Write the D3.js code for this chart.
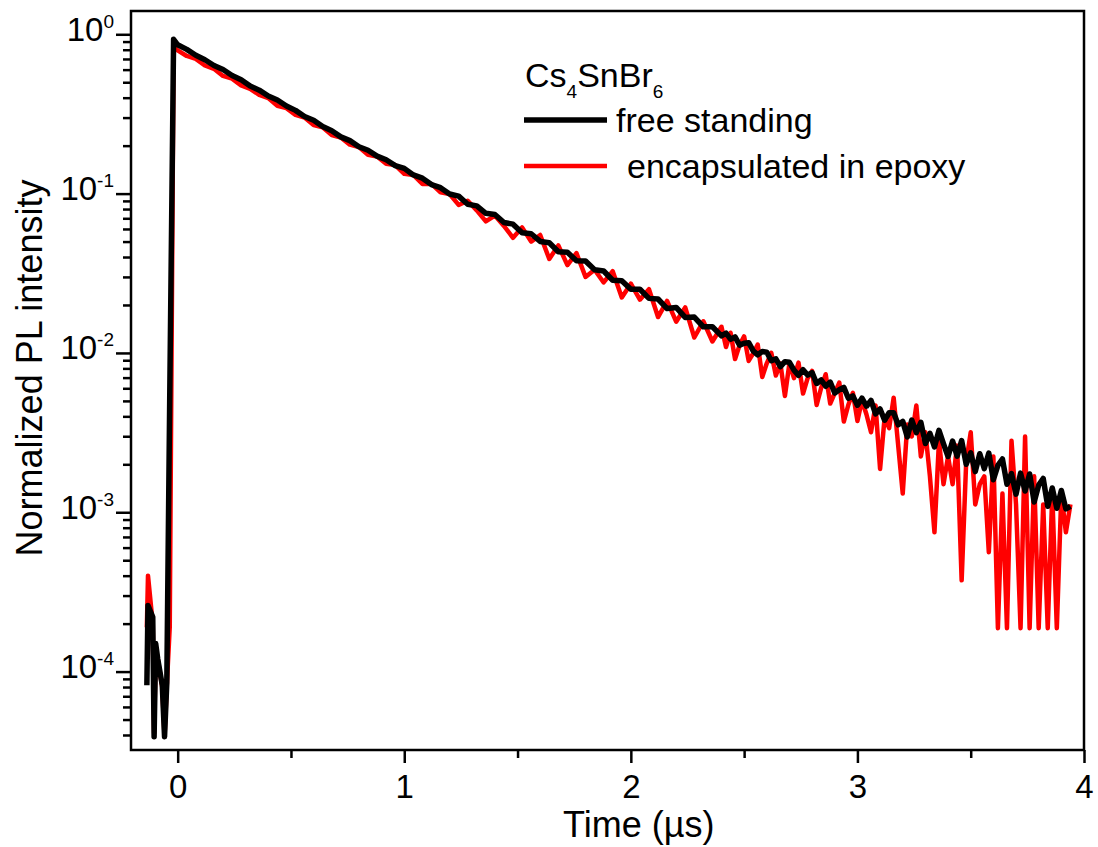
<!DOCTYPE html>
<html>
<head>
<meta charset="utf-8">
<style>
    body { margin: 0; background: #fff; }
    svg { display: block; font-family: 'Liberation Sans', Arial, sans-serif; }
    .axis .domain { display: none; }
    .axis line { stroke: #000; stroke-width: 2.5px; }
    .tick-label { font-size: 33px; fill: #000; }
    .axis-title { font-size: 36px; fill: #000; }
    .legend-text { font-size: 34px; fill: #000; }
</style>
</head>
<body>
<svg width="1098" height="847"></svg>

<script src="https://d3js.org/d3.v7.min.js"></script>
<script>
    // time axis in µs (shared by both traces)
    const time = [
        -0.136, -0.131, -0.110, -0.104, -0.097, -0.088, -0.068, -0.058, -0.048, -0.035, -0.018,
        0, 0.04, 0.08, 0.12, 0.16, 0.2, 0.24, 0.28, 0.32, 0.36, 0.4, 0.44, 0.48, 0.52, 0.56, 0.6,
        0.64, 0.68, 0.72, 0.76, 0.8, 0.84, 0.88, 0.92, 0.96, 1, 1.04, 1.08, 1.12, 1.16, 1.2,
        1.24, 1.28, 1.32, 1.36, 1.4, 1.44, 1.48, 1.52, 1.56, 1.6, 1.64, 1.68, 1.72, 1.76, 1.8,
        1.84, 1.88, 1.92, 1.96, 2, 2.04, 2.08, 2.12, 2.16, 2.2, 2.24, 2.28, 2.32, 2.36, 2.4,
        2.42, 2.44, 2.46, 2.48, 2.5, 2.52, 2.54, 2.56, 2.58, 2.6,
        2.62, 2.64, 2.66, 2.68, 2.7, 2.72, 2.74, 2.76, 2.78, 2.8,
        2.82, 2.84, 2.86, 2.88, 2.9, 2.92, 2.94, 2.96, 2.98, 3,
        3.02, 3.04, 3.06, 3.08, 3.1, 3.12, 3.14, 3.16, 3.18, 3.2,
        3.22, 3.24, 3.26, 3.28, 3.3, 3.32, 3.34, 3.36, 3.38, 3.4,
        3.42, 3.44, 3.46, 3.48, 3.5, 3.52, 3.54, 3.56, 3.58, 3.6,
        3.62, 3.64, 3.66, 3.68, 3.7, 3.72, 3.74, 3.76, 3.78, 3.8,
        3.82, 3.84, 3.86, 3.88, 3.9, 3.92, 3.94
    ]

    // free standing (black)
    const freeStanding = [
        8.2e-5, 2.6e-4, 2.2e-4, 3.9e-5, 1.5e-4, 1.2e-4, 8.2e-5, 3.9e-5, 8.5e-5, 5.4e-3, 0.93,
        0.859, 0.804, 0.738, 0.692, 0.637, 0.601, 0.551, 0.518, 0.473, 0.446, 0.410, 0.387, 0.355, 0.333, 0.305, 0.289,
        0.264, 0.248, 0.227, 0.215, 0.197, 0.187, 0.172, 0.163, 0.150, 0.144, 0.131, 0.125, 0.114, 0.109, 0.0995,
        0.0964, 0.0857, 0.0838, 0.0752, 0.0740, 0.0659, 0.0643, 0.0568, 0.0560, 0.0501, 0.0492, 0.0432, 0.0428, 0.0379, 0.0378,
        0.0333, 0.0327, 0.0286, 0.0284, 0.0251, 0.0251, 0.0220, 0.0218, 0.0190, 0.0193, 0.0167, 0.0168, 0.0146, 0.0146, 0.0128,
        0.0133, 0.0122, 0.0126, 0.0112, 0.0115, 0.0116, 0.0103, 0.00973, 0.0102, 0.0101,
        0.00893, 0.00918, 0.00820, 0.00881, 0.00873, 0.00780, 0.00723, 0.00785, 0.00726, 0.00753,
        0.00643, 0.00676, 0.00618, 0.00656, 0.00560, 0.00587, 0.00608, 0.00519, 0.00537, 0.00469,
        0.00520, 0.00463, 0.00504, 0.00414, 0.00445, 0.00378, 0.00421, 0.00421, 0.00354, 0.00372,
        0.00297, 0.00379, 0.00316, 0.00367, 0.00270, 0.00313, 0.00257, 0.00327, 0.00269, 0.00224,
        0.00280, 0.00225, 0.00282, 0.00200, 0.00236, 0.00180, 0.00233, 0.00188, 0.00235, 0.00160,
        0.00197, 0.00216, 0.00150, 0.00175, 0.00130, 0.00176, 0.00136, 0.00174, 0.00116, 0.00148,
        0.00163, 0.00109, 0.00142, 0.00106, 0.00137, 0.00105, 0.00109
    ]

    // encapsulated in epoxy (red)
    const epoxy = [
        1.9e-4, 4.0e-4, 2.0e-4, 4.1e-5, 1.4e-4, 1.2e-4, 8.0e-5, 3.9e-5, 8.2e-5, 1.9e-4, 0.835,
        0.792, 0.731, 0.701, 0.637, 0.607, 0.548, 0.527, 0.478, 0.455, 0.416, 0.398, 0.356, 0.344, 0.312, 0.300, 0.269,
        0.261, 0.233, 0.225, 0.203, 0.196, 0.175, 0.171, 0.154, 0.151, 0.133, 0.131, 0.115, 0.115, 0.102, 0.0995,
        0.0849, 0.0902, 0.0785, 0.0670, 0.0728, 0.0627, 0.0528, 0.0614, 0.0500, 0.0550, 0.0389, 0.0473, 0.0356, 0.0423, 0.0300,
        0.0333, 0.0277, 0.0326, 0.0223, 0.0272, 0.0216, 0.0251, 0.0168, 0.0212, 0.0157, 0.0193, 0.0125, 0.0158, 0.0118, 0.0146,
        0.0109, 0.0134, 0.00916, 0.0112, 0.0127, 0.00891, 0.00993, 0.0113, 0.00706, 0.00861,
        0.0100, 0.00721, 0.00859, 0.00537, 0.00863, 0.00695, 0.00869, 0.00556, 0.00693, 0.00771,
        0.00471, 0.00603, 0.00735, 0.00481, 0.00560, 0.00652, 0.00371, 0.00473, 0.00562, 0.00374,
        0.00505, 0.00411, 0.00318, 0.00468, 0.00187, 0.00393, 0.00337, 0.00524, 0.00262, 0.00131,
        0.00355, 0.00299, 0.00468, 0.00224, 0.00318, 0.00168, 0.000748, 0.00281, 0.00150, 0.00224,
        0.00150, 0.00262, 0.000374, 0.00206, 0.00318, 0.00112, 0.00150, 0.00168, 0.000561, 0.00224,
        0.000187, 0.00131, 0.000187, 0.00281, 0.00112, 0.000187, 0.00299, 0.000187, 0.00168, 0.000187,
        0.00112, 0.000187, 0.00131, 0.000187, 0.00131, 0.000748, 0.00112
    ]

    const xTicks = [0, 1, 2, 3, 4]
    const xMinorTicks = [0.5, 1.5, 2.5, 3.5]
    const yTicks = [1, 0.1, 0.01, 0.001, 0.0001]
    const yTickExp = ["0", "-1", "-2", "-3", "-4"]

    const seriesNames = ["free standing", "encapsulated in epoxy"]
    const seriesColors = ["#000000", "#ff0000"]

    let svg = d3.select("svg")

    let plot = { left: 131, right: 1084, top: 11, bottom: 750 }

    let x = d3.scaleLinear()
        .domain([-0.206, 4])
        .range([plot.left, plot.right])

    let y = d3.scaleLog()
        .domain([1.40, 3.22e-5])
        .range([plot.top, plot.bottom])

    svg.append("rect")
        .attr("width", 1098).attr("height", 847)
        .attr("fill", "#fff")

    svg.append("clipPath").attr("id", "clip")
        .append("rect")
        .attr("x", plot.left).attr("y", plot.top)
        .attr("width", plot.right - plot.left)
        .attr("height", plot.bottom - plot.top)

    let line = d3.line()
        .x(d => x(d.t))
        .y(d => y(d.v))

    // red drawn first, black on top
    let traces = [
        { name: seriesNames[1], color: seriesColors[1], width: 4.5, values: epoxy },
        { name: seriesNames[0], color: seriesColors[0], width: 5.5, values: freeStanding }
    ]

    svg.append("g")
        .attr("clip-path", "url(#clip)")
        .selectAll("path")
        .data(traces)
        .join("path")
        .attr("fill", "none")
        .attr("stroke", d => d.color)
        .attr("stroke-width", d => d.width)
        .attr("stroke-linejoin", "round")
        .attr("d", d => line(time.map((t, i) => ({ t: t, v: d.values[i] }))))

    // x axis
    svg.append("g")
        .attr("class", "axis")
        .attr("transform", `translate(0,${plot.bottom})`)
        .call(d3.axisBottom(x).tickValues(xMinorTicks).tickSize(8).tickFormat(""))

    let xAxis = svg.append("g")
        .attr("class", "axis")
        .attr("transform", `translate(0,${plot.bottom})`)
        .call(d3.axisBottom(x).tickValues(xTicks).tickSize(13).tickPadding(12).tickFormat(d3.format("d")))

    xAxis.attr("font-family", null).attr("font-size", null)
    xAxis.selectAll("text").attr("class", "tick-label")

    // y axis
    let yMinor = []
    for (let e = -5; e < 0; e++) {
        for (let k = 2; k <= 9; k++) {
            let v = k * Math.pow(10, e)
            if (v >= 3.22e-5 && v <= 1.40) yMinor.push(v)
        }
    }

    svg.append("g")
        .attr("class", "axis")
        .attr("transform", `translate(${plot.left},0)`)
        .call(d3.axisLeft(y).tickValues(yMinor).tickSize(8).tickFormat(""))

    svg.append("g")
        .attr("class", "axis")
        .attr("transform", `translate(${plot.left},0)`)
        .call(d3.axisLeft(y).tickValues(yTicks).tickSize(15).tickFormat(""))

    let yLabels = svg.append("g")
        .selectAll("text")
        .data(yTicks)
        .join("text")
        .attr("class", "tick-label")
        .attr("text-anchor", "end")
        .attr("x", 114)
        .attr("y", d => y(d) + 6.5)

    yLabels.append("tspan").text("10")
    yLabels.append("tspan")
        .attr("dy", -13)
        .style("font-size", "19px")
        .text((d, i) => yTickExp[i])

    // frame
    svg.append("rect")
        .attr("x", plot.left).attr("y", plot.top)
        .attr("width", plot.right - plot.left)
        .attr("height", plot.bottom - plot.top)
        .attr("fill", "none")
        .attr("stroke", "#000")
        .attr("stroke-width", 2.5)

    // axis titles
    svg.append("text")
        .attr("class", "axis-title")
        .attr("x", 563)
        .attr("y", 837)
        .text("Time (µs)")

    svg.append("text")
        .attr("class", "axis-title")
        .attr("text-anchor", "middle")
        .attr("transform", "translate(42,368) rotate(-90)")
        .text("Normalized PL intensity")

    // legend
    let title = svg.append("text")
        .attr("class", "legend-text")
        .attr("x", 525)
        .attr("y", 87)
    title.append("tspan").text("Cs")
    title.append("tspan").attr("dy", 11).style("font-size", "19px").text("4")
    title.append("tspan").attr("dy", -11).text("SnBr")
    title.append("tspan").attr("dy", 11).style("font-size", "19px").text("6")

    let legendRows = [
        { name: seriesNames[0], color: seriesColors[0], width: 5.5, ly: 120, tx: 616, ty: 132 },
        { name: seriesNames[1], color: seriesColors[1], width: 4.5, ly: 166, tx: 627, ty: 178 }
    ]

    let legend = svg.append("g")
        .selectAll("g")
        .data(legendRows)
        .join("g")

    legend.append("line")
        .attr("x1", 524).attr("x2", 607)
        .attr("y1", d => d.ly).attr("y2", d => d.ly)
        .attr("stroke", d => d.color)
        .attr("stroke-width", d => d.width)

    legend.append("text")
        .attr("class", "legend-text")
        .attr("x", d => d.tx)
        .attr("y", d => d.ty)
        .text(d => d.name)
</script>
</body>
</html>
